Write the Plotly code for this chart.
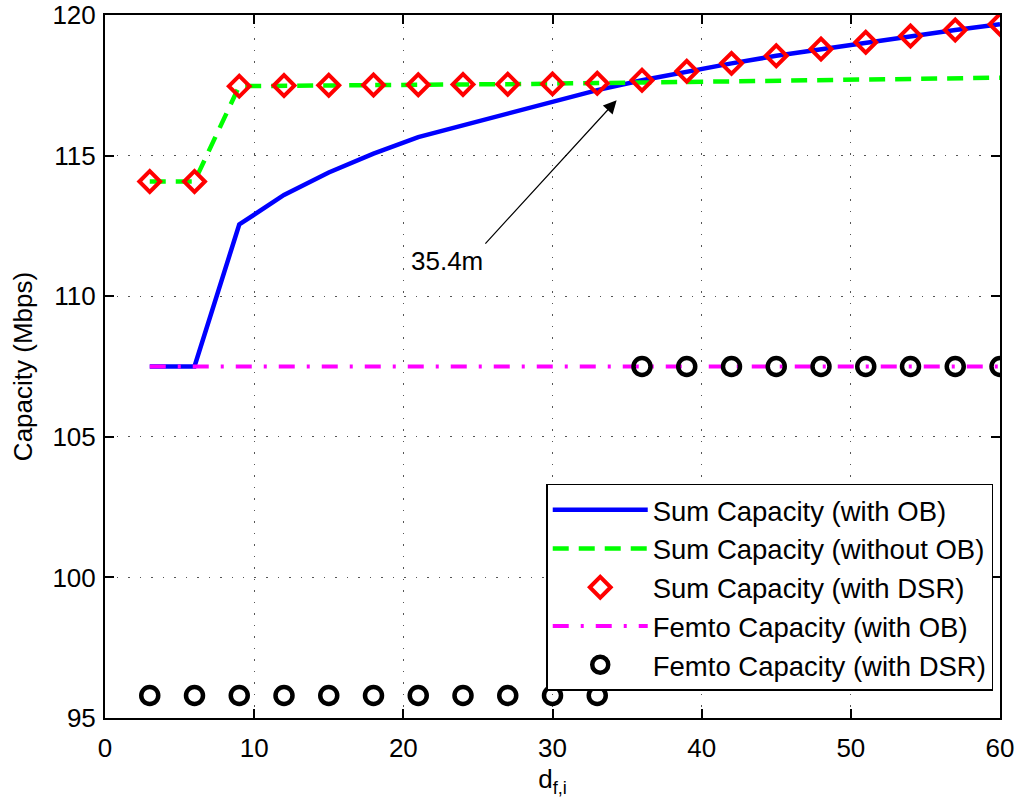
import plotly.graph_objects as go

x_vals = [3, 6, 9, 12, 15, 18, 21, 24, 27, 30, 33, 36, 39, 42, 45, 48, 51, 54, 57, 60]
sum_ob = [107.5, 107.5, 112.55, 113.6, 114.4, 115.07, 115.66, 116.08, 116.52, 116.91,
          117.33, 117.68, 118.0, 118.28, 118.55, 118.79, 119.03, 119.25, 119.47, 119.67]
sum_no_ob = [114.08, 114.08, 117.47, 117.49, 117.5, 117.51, 117.52, 117.53, 117.54, 117.55,
             117.57, 117.6, 117.62, 117.64, 117.66, 117.68, 117.7, 117.72, 117.74, 117.77]
sum_dsr = [114.08, 114.08, 117.47, 117.49, 117.5, 117.51, 117.52, 117.53, 117.54, 117.55,
           117.57, 117.68, 118.0, 118.28, 118.55, 118.79, 119.03, 119.25, 119.47, 119.67]
femto_ob = [107.5, 107.5, 107.5, 107.5, 107.5, 107.5, 107.5, 107.5, 107.5, 107.5,
            107.5, 107.5, 107.5, 107.5, 107.5, 107.5, 107.5, 107.5, 107.5, 107.5]
femto_dsr = [95.8, 95.8, 95.8, 95.8, 95.8, 95.8, 95.8, 95.8, 95.8, 95.8,
             95.8, 107.5, 107.5, 107.5, 107.5, 107.5, 107.5, 107.5, 107.5, 107.5]

x_ticks = [0, 10, 20, 30, 40, 50, 60]
y_ticks = [95, 100, 105, 110, 115, 120]

annot_text = "35.4m"
annot_head = (34.3, 116.97)
annot_tail = (25.5, 111.87)

FONT = "Liberation Sans, Arial, sans-serif"
FS = 26

fig = go.Figure()
fig.add_trace(go.Scatter(x=x_vals, y=sum_ob, mode="lines", name="Sum Capacity (with OB)",
                         line=dict(color="#0000ff", width=4.5)))
fig.add_trace(go.Scatter(x=x_vals, y=sum_no_ob, mode="lines", name="Sum Capacity (without OB)",
                         line=dict(color="#00ff00", width=4.5, dash="16px,10px")))
fig.add_trace(go.Scatter(x=x_vals, y=sum_dsr, mode="markers", name="Sum Capacity (with DSR)",
                         marker=dict(symbol="diamond-open", size=16, color="#ff0000",
                                     line=dict(color="#ff0000", width=4))))
fig.add_trace(go.Scatter(x=x_vals, y=femto_ob, mode="lines", name="Femto Capacity (with OB)",
                         line=dict(color="#ff00ff", width=4, dash="16px,12px,3px,12px")))
fig.add_trace(go.Scatter(x=x_vals, y=femto_dsr, mode="markers", name="Femto Capacity (with DSR)",
                         marker=dict(symbol="circle-open", size=17, color="#000000",
                                     line=dict(color="#000000", width=4.5))))

fig.add_annotation(x=annot_head[0], y=annot_head[1], ax=annot_tail[0], ay=annot_tail[1],
                   axref="x", ayref="y", xref="x", yref="y",
                   text=annot_text, showarrow=True, xanchor="right", yanchor="top",
                   arrowhead=2, arrowsize=2.2, arrowwidth=1.2, arrowcolor="black",
                   font=dict(family=FONT, size=FS, color="black"))

axis_common = dict(showline=True, linecolor="black", linewidth=2, mirror="ticks",
                   ticks="inside", ticklen=9, tickwidth=1.5, tickcolor="black",
                   showgrid=True, gridcolor="#555555", gridwidth=1, griddash="1.5px,10px",
                   zeroline=False, automargin=False, ticklabeloverflow="allow",
                   tickfont=dict(family=FONT, size=FS, color="black"))

fig.update_xaxes(range=[0, 60], tickvals=x_ticks, ticktext=[str(v) for v in x_ticks],
                 title=dict(text="d<sub>f,i</sub>", font=dict(family=FONT, size=FS, color="black"),
                            standoff=8),
                 ticklabelstandoff=6, **axis_common)
fig.update_yaxes(range=[95, 120], tickvals=y_ticks, ticktext=[str(v) for v in y_ticks],
                 title=dict(text="Capacity (Mbps)", font=dict(family=FONT, size=FS, color="black"),
                            standoff=12),
                 ticklabelstandoff=2, **axis_common)

fig.update_layout(
    width=1020, height=805, autosize=False,
    margin=dict(l=105, r=20, t=15, b=87),
    plot_bgcolor="white", paper_bgcolor="white",
    font=dict(family=FONT, size=FS, color="black"),
    showlegend=True,
    legend=dict(x=0.493, y=0.333, xanchor="left", yanchor="top",
                bgcolor="white", bordercolor="black", borderwidth=1.5,
                font=dict(family=FONT, size=27.5, color="black"),
                itemwidth=95, tracegroupgap=0),
)

# remove the page's default 8px body margin so the figure fills the window exactly
fig.write_html("out.html", config={"displayModeBar": False},
               post_script="document.body.style.margin='0px';document.body.style.overflow='hidden';")
